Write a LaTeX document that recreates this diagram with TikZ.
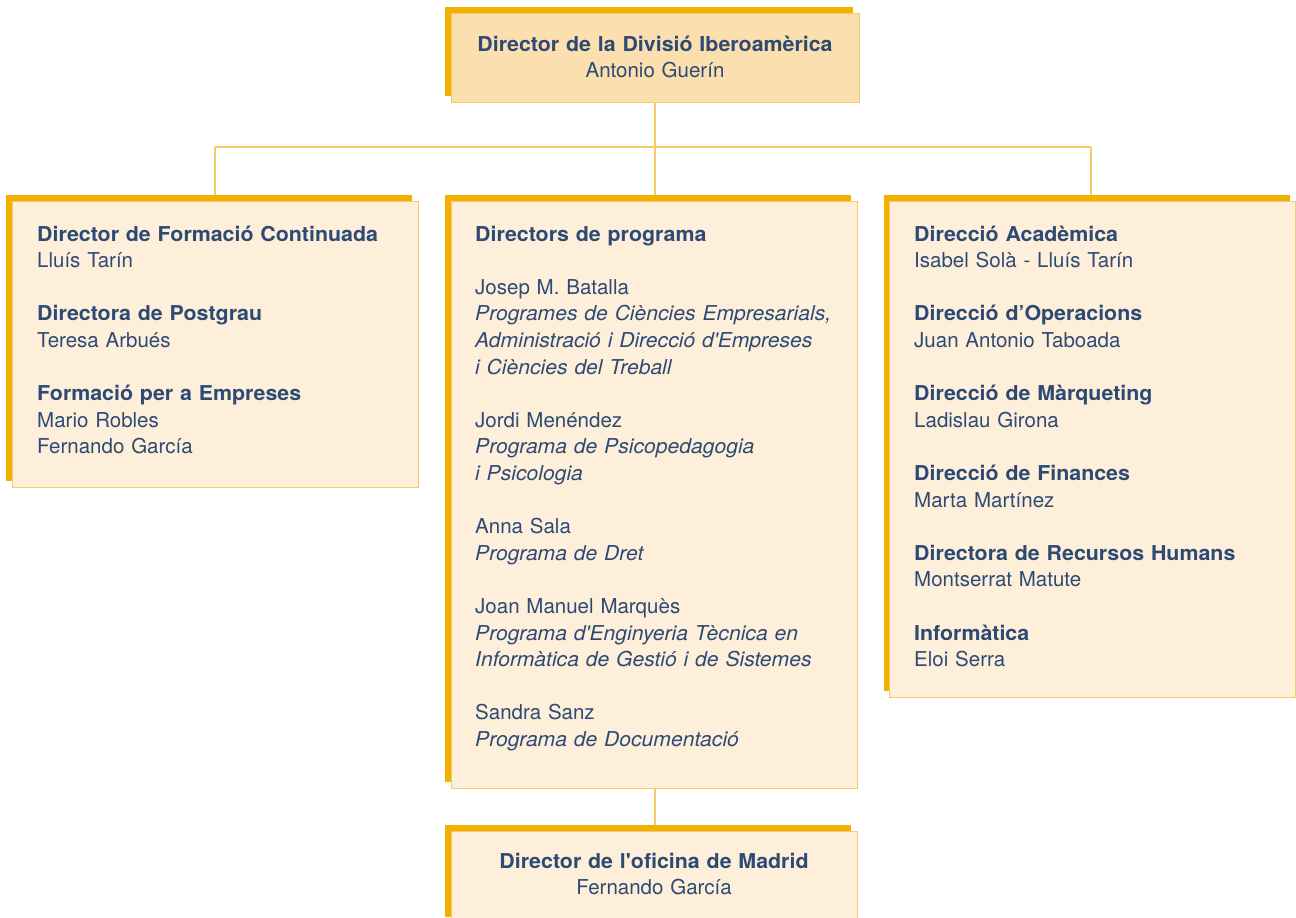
\documentclass[tikz,border=0pt]{standalone}
\usepackage{fontspec}
\usetikzlibrary{shadows}
\newfontfamily\hv{TeX Gyre Heros}[BoldFeatures={FakeStretch=1.043}, ItalicFeatures={FakeStretch=1.03}]
\definecolor{shad}{HTML}{F2B100}
\definecolor{fillA}{HTML}{FCDFAE}
\definecolor{fillB}{HTML}{FDEFD9}
\definecolor{edge}{HTML}{F7CB6A}
\definecolor{txt}{HTML}{2D4A75}
\begin{document}
\begin{tikzpicture}[x=1pt,y=-1pt,
  card/.style={draw=edge, line width=1pt, fill=fillB, anchor=north west,
    inner sep=0pt, outer sep=0pt,
    general shadow={fill=shad, shadow xshift=-6pt, shadow yshift=6pt}},
  topcard/.style={card, fill=fillA},
  conn/.style={draw=edge, line width=1.1pt},
  txtl/.style={anchor=base west, inner sep=0pt, text=txt, align=left, text width=390pt,
    font=\hv\fontsize{20.5}{26.6}\selectfont},
  txtc/.style={anchor=base, inner sep=0pt, text=txt, align=center, text width=400pt,
    font=\hv\fontsize{20.5}{26.6}\selectfont}]
\useasboundingbox (0,0) rectangle (1296,918);
\fill[white] (0,0) rectangle (1296,918);

% connectors
\coordinate (busL) at (215,147);
\coordinate (busM) at (655,147);
\coordinate (busR) at (1091,147);
\coordinate (lt) at (215,201);
\coordinate (rt) at (1091,201);
\coordinate (mt) at (655,201);
\draw[conn] (655,102) -- (busM);
\draw[conn] (busL) -- (busR);
\draw[conn] (busL) -- (lt);
\draw[conn] (busR) -- (rt);
\draw[conn] (busM) -- (mt);
\draw[conn] (655,788) -- (655,831);

% boxes
\node[topcard, minimum width=408pt, minimum height=89pt] (top) at (451,13) {};
\node[card, minimum width=406pt, minimum height=286pt] (left) at (12,201) {};
\node[card, minimum width=406pt, minimum height=587pt] (mid) at (451,201) {};
\node[card, minimum width=406pt, minimum height=496pt] (right) at (889.5,201) {};
\node[card, minimum width=406pt, minimum height=92pt] (madrid) at (451,831) {};

% texts
\node[txtc] (toptext) at (655,51) {\textbf{Director de la Divisió Iberoamèrica}\\Antonio Guerín};

\node[txtl] (lefttext) at (37,241) {\textbf{Director de Formació Continuada}\\
Lluís Tarín\\[26.6pt]
\textbf{Directora de Postgrau}\\
Teresa Arbués\\[26.6pt]
\textbf{Formació per a Empreses}\\
Mario Robles\\
Fernando García};

\node[txtl] (midtext) at (475,241) {\textbf{Directors de programa}\\[26.6pt]
Josep M. Batalla\\
\textit{Programes de Ciències Empresarials,}\\
\textit{Administració i Direcció d'Empreses}\\
\textit{i Ciències del Treball}\\[26.6pt]
Jordi Menéndez\\
\textit{Programa de Psicopedagogia}\\
\textit{i Psicologia}\\[26.6pt]
Anna Sala\\
\textit{Programa de Dret}\\[26.6pt]
Joan Manuel Marquès\\
\textit{Programa d'Enginyeria Tècnica en}\\
\textit{Informàtica de Gestió i de Sistemes}\\[26.6pt]
Sandra Sanz\\
\textit{Programa de Documentació}};

\node[txtl] (righttext) at (914,241) {\textbf{Direcció Acadèmica}\\
Isabel Solà - Lluís Tarín\\[26.6pt]
\textbf{Direcció d’Operacions}\\
Juan Antonio Taboada\\[26.6pt]
\textbf{Direcció de Màrqueting}\\
Ladislau Girona\\[26.6pt]
\textbf{Direcció de Finances}\\
Marta Martínez\\[26.6pt]
\textbf{Directora de Recursos Humans}\\
Montserrat Matute\\[26.6pt]
\textbf{Informàtica}\\
Eloi Serra};

\node[txtc] (madtext) at (654,868) {\textbf{Director de l'oficina de Madrid}\\Fernando García};
\end{tikzpicture}
\end{document}
